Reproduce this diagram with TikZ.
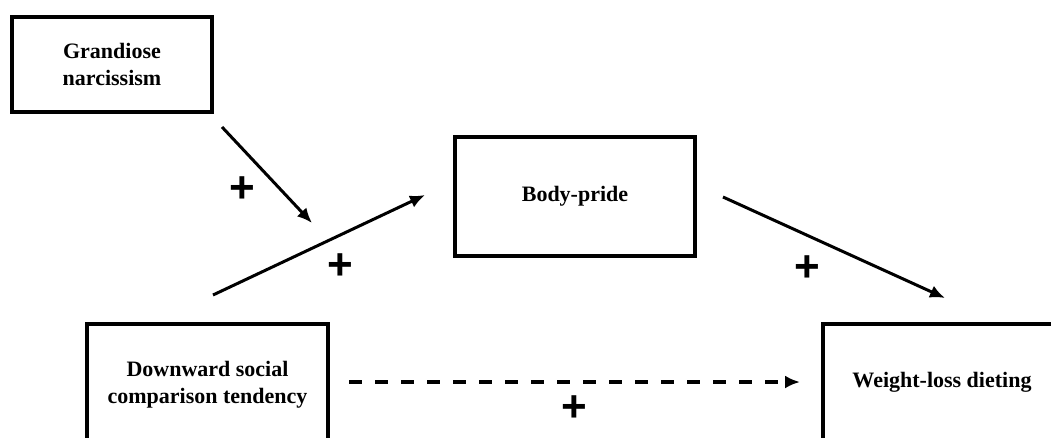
\documentclass[tikz,border=0pt]{standalone}
\usepackage{fontspec}
\setmainfont{Liberation Serif}
\newfontfamily\plusfont{Liberation Sans}
\usetikzlibrary{arrows.meta}
\tikzset{
  box/.style={draw, line width=4pt, align=center, inner sep=0pt,
    font=\fontsize{22}{27}\selectfont\bfseries},
  conn/.style={line width=3pt, -{Latex[length=15pt,width=13pt]}},
  dashconn/.style={conn, line width=3.5pt, dash pattern=on 13pt off 13pt},
  sign/.style={font=\plusfont\bfseries\fontsize{44}{44}\selectfont, inner sep=0pt}
}
\begin{document}
\begin{tikzpicture}[x=1pt,y=-1pt]
\useasboundingbox (0,0) rectangle (1051,437);
\clip (0,0) rectangle (1051,437);
% boxes
\node[box, minimum width=200pt, minimum height=95pt] (gn) at (112,64.5) {Grandiose\\narcissism};
\node[box, minimum width=240pt, minimum height=119pt] (bp) at (575,196.5) {Body-pride};
\node[box, minimum width=241pt, minimum height=122pt] (dsc) at (207.5,385) {Downward social\\comparison tendency};
\node[box, minimum width=238pt, minimum height=116pt] (wld) at (942,382) {Weight-loss dieting};
% connector end points
\coordinate (a1s) at (222,127);
\coordinate (a1e) at (312,223);
\coordinate (a2s) at (213,295);
\coordinate (a2e) at (425,195);
\coordinate (a3s) at (723,197);
\coordinate (a3e) at (945,298);
\coordinate (a4s) at (349,382);
\coordinate (a4e) at (800,382);
% connectors
\draw[conn] (a1s) -- (a1e);
\draw[conn] (a2s) -- (a2e);
\draw[conn] (a3s) -- (a3e);
\draw[dashconn] (a4s) -- (a4e);
% signs
\node[sign] (p1) at (242,190) {+};
\node[sign] (p2) at (340,267) {+};
\node[sign] (p3) at (807,269) {+};
\node[sign] (p4) at (574,409) {+};
\end{tikzpicture}
\end{document}
